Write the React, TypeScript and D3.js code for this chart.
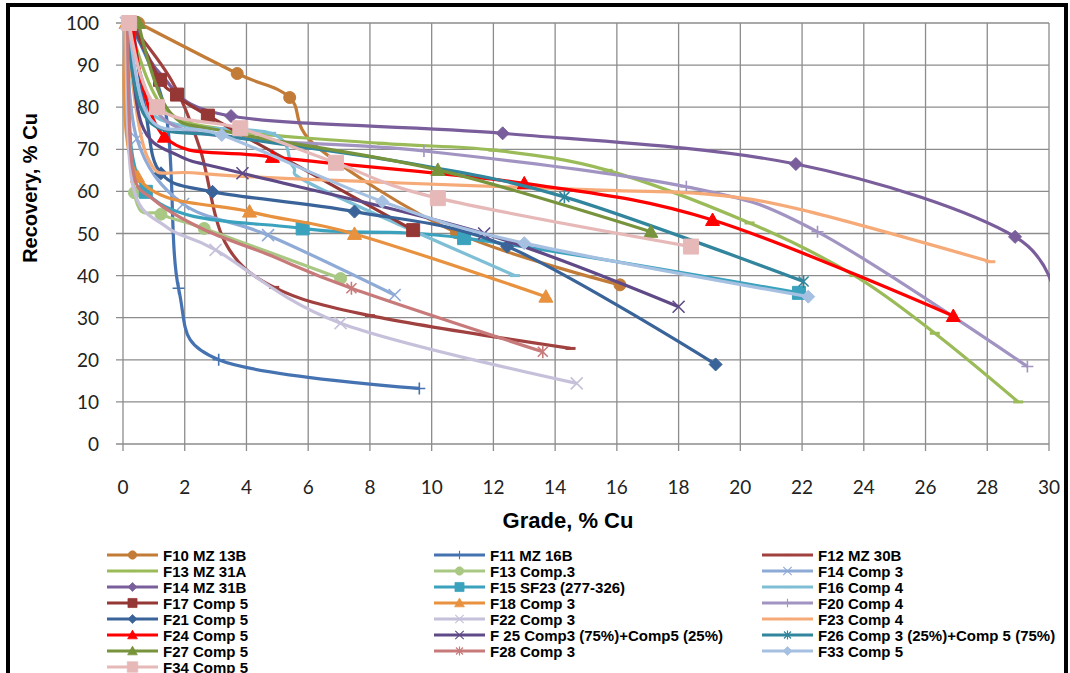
import React, { useEffect, useRef } from 'react';
import * as d3 from 'd3';

// Grade (x, % Cu) vs Recovery (y, % Cu)
const gradeTicks = d3.range(0, 31, 2);
const recoveryTicks = d3.range(0, 101, 10);

const f10MZ13B = [[0.5, 100], [3.7, 88], [5.4, 82.3], [6.3, 70.5], [10.8, 50.2], [16.1, 37.8]];
const f11MZ16B = [[0.2, 100], [1.4, 78], [1.8, 37], [3.1, 20], [9.6, 13.2]];
const f12MZ30B = [[0.2, 100], [1.6, 86], [2.5, 70], [3.3, 48], [4.9, 37.2], [8, 30.5], [14.5, 22.7]];
const f13MZ31A = [[0.2, 100], [1.3, 80], [3.5, 74.5], [8.4, 71.4], [12, 69.8], [15.7, 65], [20.3, 52.5], [23.7, 40], [26.3, 26.3], [29, 10]];
const f13Comp3 = [[0.15, 100], [0.37, 59.7], [1.23, 54.6], [2.63, 51.2], [7.05, 39.3]];
const f14Comp3 = [[0.1, 100], [0.45, 72.5], [1.95, 57], [4.7, 49.6], [8.8, 35.4]];
const f14MZ31B = [[0.4, 100], [1.2, 88], [3.5, 77.9], [12.3, 73.8], [21.8, 66.5], [28.9, 49.2], [30.3, 30]];
const f15SF23 = [[0.3, 100], [0.74, 59.9], [5.82, 51.2], [11.05, 48.9], [21.9, 35.9]];
const f16Comp4 = [[0.1, 100], [1.0, 78], [4.8, 73.8], [5.5, 66], [6.3, 61], [12.7, 40]];
const f17Comp5 = [[0.3, 100], [1.2, 86.5], [1.75, 83], [2.75, 78], [9.4, 50.8]];
const f18Comp3 = [[0.1, 100], [0.47, 63.5], [4.1, 55.2], [7.5, 49.9], [13.7, 35]];
const f20Comp4 = [[0.2, 100], [1.2, 78], [4, 72.5], [9.75, 69.6], [18.25, 61.1], [22.5, 50.4], [29.3, 18.4]];
const f21Comp5 = [[0.3, 100], [0.75, 78], [1.23, 64.3], [2.9, 59.9], [7.5, 55.2], [12.45, 46.9], [19.2, 18.9]];
const f22Comp3 = [[0.1, 100], [0.3, 62], [1.4, 51.6], [3.0, 46.1], [7.05, 28.7], [14.7, 14.4]];
const f23Comp4 = [[0.1, 100], [0.8, 68], [2.5, 64.3], [9, 62], [15.5, 60.3], [19, 59.3], [22, 55.6], [28.1, 43.3]];
const f24Comp5 = [[0.3, 100], [1.34, 73], [4.84, 68.2], [13, 61.9], [19.1, 53.2], [26.9, 30.4]];
const f25Mix = [[0.2, 100], [0.6, 76], [1.8, 68.5], [3.87, 64.3], [11.7, 50], [18, 32.6]];
const f26Mix = [[0.15, 100], [0.8, 77], [3.5, 73], [9, 67], [14.3, 58.7], [22.05, 38.6]];
const f27Comp5 = [[0.5, 100], [1.5, 79], [3.5, 74], [10.2, 65.1], [17.1, 50.4]];
const f28Comp3 = [[0.15, 100], [0.3, 66], [1.0, 58], [2.6, 51], [4.7, 45], [7.4, 37], [13.6, 21.9]];
const f33Comp5 = [[0.2, 100], [0.9, 77], [3.2, 73.4], [8.4, 57.6], [13, 47.7], [22.2, 35]];
const f34Comp5 = [[0.2, 100], [1.1, 80], [3.8, 75], [6.9, 66.8], [10.2, 58.4], [18.4, 46.9]];

// plain: indices of points drawn without a visible marker (hidden in the original)
const series = [
  { name: 'F10 MZ 13B', data: f10MZ13B, color: '#C27C37', marker: 'circle', plain: [3] },
  { name: 'F11 MZ 16B', data: f11MZ16B, color: '#4572B0', marker: 'plus', plain: [1] },
  { name: 'F12 MZ 30B', data: f12MZ30B, color: '#A0413F', marker: 'dash', plain: [1, 2, 3] },
  { name: 'F13 MZ 31A', data: f13MZ31A, color: '#9BBB59', marker: 'dash', plain: [1, 2] },
  { name: 'F13 Comp.3', data: f13Comp3, color: '#A9C884', marker: 'circle', plain: [0] },
  { name: 'F14 Comp 3', data: f14Comp3, color: '#8EAAD6', marker: 'x', plain: [] },
  { name: 'F14 MZ 31B', data: f14MZ31B, color: '#7A5E9C', marker: 'diamond', plain: [1, 6] },
  { name: 'F15 SF23 (277-326)', data: f15SF23, color: '#3BA2BE', marker: 'square', plain: [0] },
  { name: 'F16 Comp 4', data: f16Comp4, color: '#7EBFD6', marker: 'dash', plain: [1, 3, 4] },
  { name: 'F17 Comp 5', data: f17Comp5, color: '#953735', marker: 'square', plain: [] },
  { name: 'F18 Comp 3', data: f18Comp3, color: '#E8913E', marker: 'triangle', plain: [] },
  { name: 'F20 Comp 4', data: f20Comp4, color: '#A294C2', marker: 'plus', plain: [1, 2] },
  { name: 'F21 Comp 5', data: f21Comp5, color: '#3A6499', marker: 'diamond', plain: [1] },
  { name: 'F22 Comp 3', data: f22Comp3, color: '#C6C0DA', marker: 'x', plain: [1, 2] },
  { name: 'F23 Comp 4', data: f23Comp4, color: '#F6AA78', marker: 'dash', plain: [1, 2, 3, 4, 5, 6] },
  { name: 'F24 Comp 5', data: f24Comp5, color: '#FF0000', marker: 'triangle', plain: [] },
  { name: 'F 25 Comp3 (75%)+Comp5 (25%)', data: f25Mix, color: '#5F4A87', marker: 'x', plain: [1, 2] },
  { name: 'F26 Comp 3 (25%)+Comp 5 (75%)', data: f26Mix, color: '#31859C', marker: 'star', plain: [1, 2, 3] },
  { name: 'F27 Comp 5', data: f27Comp5, color: '#77933C', marker: 'triangle', plain: [1, 2] },
  { name: 'F28 Comp 3', data: f28Comp3, color: '#C87A7A', marker: 'star', plain: [1, 2, 3, 4] },
  { name: 'F33 Comp 5', data: f33Comp5, color: '#A6C0E2', marker: 'diamond', plain: [1] },
  { name: 'F34 Comp 5', data: f34Comp5, color: '#E6B9B8', marker: 'bigsquare', plain: [] },
];

const width = 1070;
const height = 673;
const plot = { left: 123, right: 1049, top: 23, bottom: 444 };

const markerPath = (type: string) => {
  switch (type) {
    case 'circle': return d3.symbol(d3.symbolCircle, Math.PI * 36)();
    case 'square': return 'M-6.5,-6.5h13v13h-13Z';
    case 'bigsquare': return 'M-7.5,-7.5h15v15h-15Z';
    case 'diamond': return 'M0,-6.5L6.5,0L0,6.5L-6.5,0Z';
    case 'triangle': return 'M0,-7L7,5.5L-7,5.5Z';
    case 'x': return 'M-6,-6L6,6M-6,6L6,-6';
    case 'plus': return 'M-6,0H6M0,-6V6';
    case 'star': return 'M-5,-5L5,5M-5,5L5,-5M0,-6.5V6.5';
    default: return 'M-5,0H5';
  }
};

const isFilled = (type: string) => ['circle', 'square', 'bigsquare', 'diamond', 'triangle'].includes(type);

const App = () => {
  const chartRef = useRef(null);

  const xScale = d3.scaleLinear().domain([0, 30]).range([plot.left, plot.right]);
  const yScale = d3.scaleLinear().domain([0, 100]).range([plot.bottom, plot.top]);

  useEffect(() => {
    const svg = d3.select(chartRef.current);
    svg.selectAll('*').remove();

    svg.append('rect')
      .attr('x', 0).attr('y', 0).attr('width', width).attr('height', height)
      .attr('fill', '#fff');

    svg.append('clipPath').attr('id', 'plot-clip')
      .append('rect')
      .attr('x', plot.left - 10).attr('y', plot.top - 10)
      .attr('width', plot.right - plot.left + 11).attr('height', plot.bottom - plot.top + 20);

    // frame
    svg.append('rect')
      .attr('x', 8).attr('y', 5).attr('width', 1058).attr('height', 720)
      .attr('fill', 'none').attr('stroke', '#000').attr('stroke-width', 4);

    // grid
    const grid = svg.append('g').attr('stroke', '#8c8c8c').attr('stroke-width', 1.3);
    grid.selectAll('.v').data(gradeTicks).join('line')
      .attr('x1', d => xScale(d)).attr('x2', d => xScale(d))
      .attr('y1', plot.top).attr('y2', plot.bottom + 7);
    grid.selectAll('.h').data(recoveryTicks).join('line')
      .attr('x1', plot.left - 7).attr('x2', plot.right)
      .attr('y1', d => yScale(d)).attr('y2', d => yScale(d));

    // tick labels
    svg.append('g')
      .selectAll('text').data(gradeTicks).join('text')
      .attr('x', d => xScale(d)).attr('y', 494)
      .attr('text-anchor', 'middle')
      .attr('font-family', 'Lato, sans-serif').attr('font-size', 19).attr('fill', '#222')
      .text(d => d);
    svg.append('g')
      .selectAll('text').data(recoveryTicks).join('text')
      .attr('x', 99).attr('y', d => yScale(d) + 7)
      .attr('text-anchor', 'end')
      .attr('font-family', 'Lato, sans-serif').attr('font-size', 19).attr('fill', '#222')
      .text(d => d);

    // axis titles
    svg.append('text')
      .attr('x', 568).attr('y', 528).attr('text-anchor', 'middle')
      .attr('font-family', '"Liberation Sans", Arial, sans-serif').attr('font-weight', 'bold')
      .attr('font-size', 22).text('Grade, % Cu');
    svg.append('text')
      .attr('transform', 'translate(37,188) rotate(-90)').attr('text-anchor', 'middle')
      .attr('font-family', '"Liberation Sans", Arial, sans-serif').attr('font-weight', 'bold')
      .attr('font-size', 20).text('Recovery, % Cu');

    const line = d3.line()
      .x(d => xScale(d[0]))
      .y(d => yScale(d[1]))
      .curve(d3.curveCardinal.tension(0));

    const drawMarkers = (g, pts, s, k) => {
      g.selectAll('path.m').data(pts).join('path')
        .attr('class', 'm')
        .attr('transform', d => `translate(${d[0]},${d[1]}) scale(${k})`)
        .attr('d', markerPath(s.marker))
        .attr('fill', isFilled(s.marker) ? s.color : 'none')
        .attr('stroke', s.color)
        .attr('stroke-width', isFilled(s.marker) ? 1 : (s.marker === 'dash' ? 3 : 1.6));
    };

    // series
    const plotG = svg.append('g').attr('clip-path', 'url(#plot-clip)');
    series.forEach(s => {
      const g = plotG.append('g');
      g.append('path')
        .attr('d', line(s.data))
        .attr('fill', 'none')
        .attr('stroke', s.color)
        .attr('stroke-width', 3.2)
        .attr('stroke-linejoin', 'round');
      const shown = s.data.filter((d, i) => !s.plain.includes(i));
      drawMarkers(g, shown.map(d => [xScale(d[0]), yScale(d[1])]), s, 1);
    });

    // legend
    const colX = [107, 434, 762];
    series.forEach((s, i) => {
      const lx = colX[i % 3];
      const ly = 555 + Math.floor(i / 3) * 16;
      const g = svg.append('g');
      g.append('line')
        .attr('x1', lx).attr('x2', lx + 51).attr('y1', ly).attr('y2', ly)
        .attr('stroke', s.color).attr('stroke-width', 3.2);
      drawMarkers(g, [[lx + 25.5, ly]], s, 0.7);
      g.append('text')
        .attr('x', lx + 56).attr('y', ly + 5.5)
        .attr('font-family', '"Liberation Sans", Arial, sans-serif').attr('font-weight', 'bold')
        .attr('font-size', 15).attr('fill', '#000')
        .text(s.name);
    });
  });

  return (
    <svg
      ref={chartRef}
      width={width}
      height={height}
      viewBox={`0 0 ${width} ${height}`}
      style={{ position: 'absolute', left: 0, top: 0 }}
    />
  );
};

export default App;
